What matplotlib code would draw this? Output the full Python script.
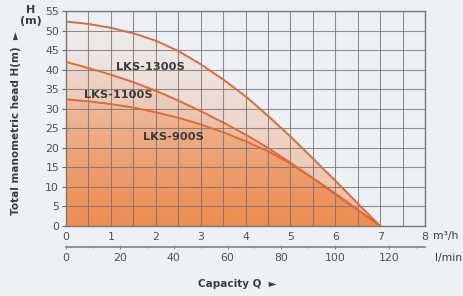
"""
Pump performance curves (H vs Q) for the LKS series.
"""

import numpy as np
import matplotlib

matplotlib.use("Agg")
import matplotlib.pyplot as plt
from matplotlib.colors import to_rgb

# ---------------------------------------------------------------------------
# Data
# ---------------------------------------------------------------------------

flow_m3h = [0, 0.5, 1, 1.5, 2, 2.5, 3, 3.5, 4, 4.5, 5, 5.5, 6, 6.5, 7]

head_1300 = [52.3, 51.7, 50.7, 49.3, 47.4, 44.8, 41.4, 37.5, 33.2, 28.2, 22.9, 17.3, 11.6, 5.8, 0]
head_1100 = [42.0, 40.4, 38.7, 36.8, 34.6, 32.1, 29.4, 26.5, 23.4, 20.0, 16.2, 12.2, 8.1, 4.1, 0]
head_900 = [32.4, 31.9, 31.2, 30.3, 29.1, 27.7, 26.0, 24.0, 21.7, 19.1, 16.0, 12.3, 8.3, 4.2, 0]

series_names = ["LKS-1300S", "LKS-1100S", "LKS-900S"]
label_pos = [(1.88, 40.7), (1.17, 33.4), (2.40, 22.8)]

x_ticks = [0, 1, 2, 3, 4, 5, 6, 7, 8]
y_ticks = [0, 5, 10, 15, 20, 25, 30, 35, 40, 45, 50, 55]
lmin_ticks = [0, 20, 40, 60, 80, 100, 120]

BG = "#EDF1F5"
CURVE = "#E0693A"
FILL = "#EE7A35"
TEXT = "#3C3C3C"
TICK = "#505050"


def m3h_to_lmin(q):
    return q * 1000.0 / 60.0


def lmin_to_m3h(q):
    return q * 60.0 / 1000.0


# ---------------------------------------------------------------------------
# Plot
# ---------------------------------------------------------------------------

fig = plt.figure(figsize=(4.64, 2.96), dpi=100, facecolor=BG)
ax = fig.add_axes([0.1422, 0.2365, 0.7738, 0.7263])
ax.set_facecolor(BG)
ax.set_xlim(0, 8)
ax.set_ylim(0, 55)

# gradient image used for each curve fill (transparent at top, orange at bottom)
rgb = to_rgb(FILL)
yy = np.linspace(0, 1, 256)[:, None]
alpha = 0.46 * (1 - yy * 55 / 62) ** 1.3
grad = np.zeros((256, 2, 4))
grad[..., 0], grad[..., 1], grad[..., 2] = rgb
grad[..., 3] = alpha

for heads in (head_1300, head_1100, head_900):
    poly = ax.fill_between(flow_m3h, heads, 0, color="none", lw=0)
    im = ax.imshow(grad, extent=[0, 8, 0, 55], origin="lower",
                   aspect="auto", zorder=1, interpolation="bilinear")
    im.set_clip_path(poly.get_paths()[0], transform=ax.transData)

for heads in (head_1300, head_1100, head_900):
    ax.plot(flow_m3h, heads, color=CURVE, lw=1.4, zorder=4,
            solid_joinstyle="round")

for name, (qx, hy) in zip(series_names, label_pos):
    ax.text(qx, hy, name, ha="center", va="center", fontsize=8.2,
            fontweight="bold", color=TEXT, zorder=5)

# grid
ax.set_xticks(x_ticks)
ax.set_xticks(np.arange(0, 8.01, 0.5), minor=True)
ax.set_yticks(y_ticks)
ax.grid(which="both", color="#756c67", lw=0.8, alpha=0.75, zorder=2)
for line in ax.get_xgridlines() + ax.get_ygridlines():
    line.set_zorder(2)

ax.tick_params(axis="x", which="both", length=0, pad=4,
               labelsize=7.8, labelcolor=TICK)
ax.tick_params(axis="y", length=3, width=0.8, color="#666666", pad=2,
               labelsize=7.8, labelcolor=TICK)
for sp in ax.spines.values():
    sp.set_color("#7a7a7a")
    sp.set_linewidth(1.0)

# secondary l/min axis below
sec = ax.secondary_xaxis(-0.098, functions=(m3h_to_lmin, lmin_to_m3h))
sec.set_xticks(lmin_ticks)
sec.set_xticks(np.arange(0, 131, 10), minor=True)
sec.spines["bottom"].set_color("#8a8a8a")
sec.spines["bottom"].set_linewidth(1.3)
sec.tick_params(axis="x", which="major", direction="inout", length=3,
                color="#8a8a8a", labelsize=7.8, labelcolor=TICK, pad=2.5)
sec.tick_params(axis="x", which="minor", direction="inout", length=2,
                color="#8a8a8a")

# unit and axis labels
fig.text(0.933, 0.203, "m\u00b3/h", fontsize=7.8, color=TEXT,
         ha="left", va="center")
fig.text(0.937, 0.130, "l/min", fontsize=7.8, color=TEXT,
         ha="left", va="center")
fig.text(0.511, 0.041, "Capacity Q  \u25ba", fontsize=7.5, fontweight="bold",
         color=TEXT, ha="center", va="center")
fig.text(0.034, 0.585, "Total manometric head H(m)  \u25ba", rotation=90,
         fontsize=7.5, fontweight="bold", color=TEXT, ha="center", va="center")
fig.text(0.066, 0.947, "H\n(m)", fontsize=8, fontweight="bold", color=TEXT,
         ha="center", va="center", linespacing=1.05)

fig.savefig("out.png", dpi=100, facecolor=BG)
